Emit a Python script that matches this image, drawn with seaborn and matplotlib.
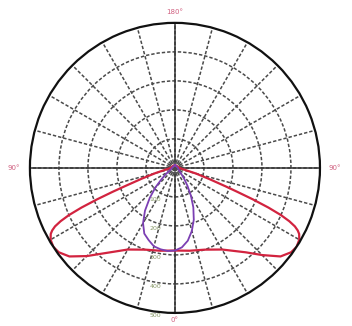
import numpy as np
import pandas as pd
import matplotlib
matplotlib.use('Agg')
import matplotlib.pyplot as plt
import seaborn as sns

# polar intensity distribution, angles in degrees measured from nadir (0 = down)
red_angles = [-180, -120, -90, -85, -80, -75, -72, -70, -69, -68, -67, -66, -65, -64, -63,
              -62, -60, -57, -54, -50, -45, -40, -30, -20, -10, 0, 10, 20, 30, 40, 45, 50,
              54, 57, 60, 62, 63, 64, 65, 66, 67, 68, 69, 70, 72, 75, 80, 85, 90, 120, 180]
red_values = [0.02, 0.02, 0.03, 0.04, 0.06, 0.14, 0.24, 0.36, 0.46, 0.58, 0.70, 0.80,
              0.87, 0.92, 0.95, 0.97, 0.99, 1.0, 0.99, 0.95, 0.86, 0.77, 0.65, 0.60, 0.58,
              0.57, 0.58, 0.60, 0.65, 0.76, 0.85, 0.95, 0.99, 1.0, 0.99, 0.97, 0.95, 0.92,
              0.87, 0.80, 0.70, 0.58, 0.46, 0.37, 0.25, 0.15, 0.06, 0.04, 0.03, 0.02, 0.02]

purple_angles = [-180, -90, -70, -60, -55, -50, -45, -40, -35, -30, -25, -20, -15, -10, -5,
                 0, 5, 10, 15, 20, 25, 30, 35, 40, 50, 60, 90, 180]
purple_values = [0.02, 0.02, 0.03, 0.05, 0.08, 0.12, 0.19, 0.27, 0.36, 0.44, 0.50, 0.53,
                 0.56, 0.57, 0.575, 0.57, 0.55, 0.51, 0.45, 0.38, 0.30, 0.22, 0.15, 0.10,
                 0.05, 0.03, 0.02, 0.02]

ring_levels = [0.2, 0.4, 0.6, 0.8, 1.0]
ring_labels = ['100', '200', '300', '400', '500']
angle_label_pos = [180, 90, -90, 0]
angle_label_r = [1.075, 1.10, 1.11, 1.05]
angle_label_text = ['180°', '90°', '90°', '0°']

sns.set_style('white')

red_df = pd.DataFrame({'theta': np.deg2rad(red_angles), 'r': red_values})
purple_df = pd.DataFrame({'theta': np.deg2rad(purple_angles), 'r': purple_values})

fig = plt.figure(figsize=(3.52, 3.26), dpi=100)
ax = fig.add_axes([0.085, 0.04, 0.824, 0.89], projection='polar')
ax.set_theta_zero_location('S')
ax.set_theta_direction(1)
ax.set_ylim(0, 1.0)

# grid: dashed every 15 degrees, solid main axes
ax.set_thetagrids(np.arange(0, 360, 15), labels=[])
ax.set_rgrids(ring_levels[:-1], labels=[])
ax.grid(True, color='#4a4a4a', linestyle=(0, (2.2, 1.3)), linewidth=1.1)
for a in [0, 90, 180, 270]:
    ax.axvline(np.deg2rad(a), color='#333333', lw=1.1, ymin=0.03)
ax.axhline(0.035, color='#555555', lw=1.0)
ax.spines['polar'].set_linewidth(1.6)
ax.spines['polar'].set_color('#111111')

sns.lineplot(data=red_df, x='theta', y='r', sort=False, ax=ax, color='#d2233f', lw=1.6)
sns.lineplot(data=purple_df, x='theta', y='r', sort=False, ax=ax, color='#7b3fb3', lw=1.3)
ax.set_xlabel('')
ax.set_ylabel('')

for lvl, lab in zip(ring_levels, ring_labels):
    ax.annotate(lab, xy=(0, lvl), xytext=(-10, -2), textcoords='offset points',
                ha='right', va='center', fontsize=4.5, color='#8a9a6a')

for a, rr, t in zip(angle_label_pos, angle_label_r, angle_label_text):
    ax.text(np.deg2rad(a), rr, t, ha='center', va='center', fontsize=5,
            color='#d06080', clip_on=False)

fig.savefig('out.png', dpi=100)
